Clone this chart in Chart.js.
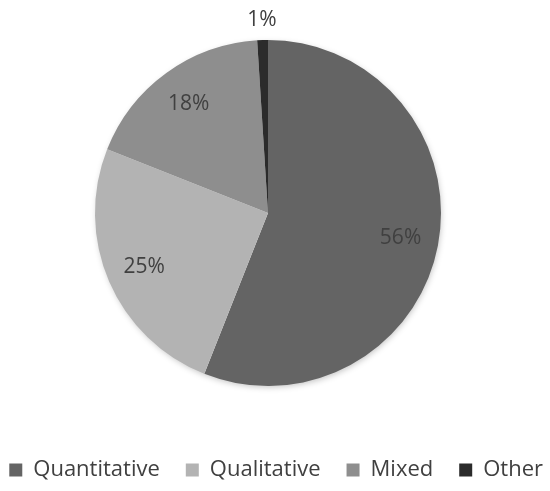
<!DOCTYPE html>
<html>
<head>
<meta charset="utf-8">
<script src="https://cdn.jsdelivr.net/npm/chart.js@4/dist/chart.umd.min.js"></script>
<style>
  html, body { margin: 0; padding: 0; background: #fff; }
  #wrap { width: 550px; height: 491px; }
</style>
</head>
<body>
<div id="wrap"><canvas id="myChart"></canvas></div>
<script>
// Chart data
const categories = ['Quantitative', 'Qualitative', 'Mixed', 'Other'];
const shares = [56, 25, 18, 1];
const sliceColors = ['#646464', '#b3b3b3', '#8e8e8e', '#2b2b2b'];

// Draw the percent labels inside (or just outside for tiny slices)
const pctLabels = {
    id: 'pctLabels',
    afterDatasetsDraw(chart) {
        const ctx = chart.ctx;
        const meta = chart.getDatasetMeta(0);
        ctx.save();
        ctx.font = '21px "Open Sans", sans-serif';
        ctx.fillStyle = '#404040';
        ctx.textAlign = 'center';
        ctx.textBaseline = 'middle';
        meta.data.forEach((arc, i) => {
            const mid = (arc.startAngle + arc.endAngle) / 2;
            const r = shares[i] < 3 ? arc.outerRadius + 20 : arc.outerRadius * 0.78;
            const x = arc.x + Math.cos(mid) * r;
            const y = arc.y + Math.sin(mid) * r;
            ctx.fillText(shares[i] + '%', x, y);
        });
        ctx.restore();
    }
};

// Soft shadow under the pie
const pieShadow = {
    id: 'pieShadow',
    beforeDatasetsDraw(chart) {
        const ctx = chart.ctx;
        const arc = chart.getDatasetMeta(0).data[0];
        if (!arc) return;
        ctx.save();
        ctx.shadowColor = 'rgba(0,0,0,0.25)';
        ctx.shadowBlur = 6;
        ctx.shadowOffsetX = 1;
        ctx.shadowOffsetY = 2;
        ctx.fillStyle = '#ffffff';
        ctx.beginPath();
        ctx.arc(arc.x, arc.y, arc.outerRadius - 1, 0, Math.PI * 2);
        ctx.fill();
        ctx.restore();
    }
};

// move the legend row so it starts near the left edge like the original
const legendNudge = {
    id: 'legendNudge',
    afterLayout(chart) {
        chart.legend.left += 33;
        chart.legend.right += 33;
    }
};

new Chart(document.getElementById('myChart').getContext('2d'), {
    type: 'pie',
    data: {
        labels: categories,
        datasets: [{
            data: shares,
            backgroundColor: sliceColors,
            borderWidth: 0
        }]
    },
    options: {
        responsive: true,
        maintainAspectRatio: false,
        animation: false,
        // negative left padding only widens the legend box (keeps it on one row)
        layout: { padding: { top: 40, left: -60, right: 14, bottom: 0 } },
        plugins: {
            tooltip: { enabled: false },
            legend: {
                position: 'bottom',
                align: 'end',
                // empty title used only as a spacer above the legend row
                title: {
                    display: true,
                    text: '',
                    font: { size: 10, lineHeight: 1 },
                    padding: { top: 37, bottom: 0 }
                },
                labels: {
                    boxWidth: 13,
                    boxHeight: 13,
                    padding: 26,
                    color: '#404040',
                    font: { family: '"Open Sans", sans-serif', size: 22 }
                }
            }
        }
    },
    plugins: [pieShadow, pctLabels, legendNudge]
});
</script>
</body>
</html>
